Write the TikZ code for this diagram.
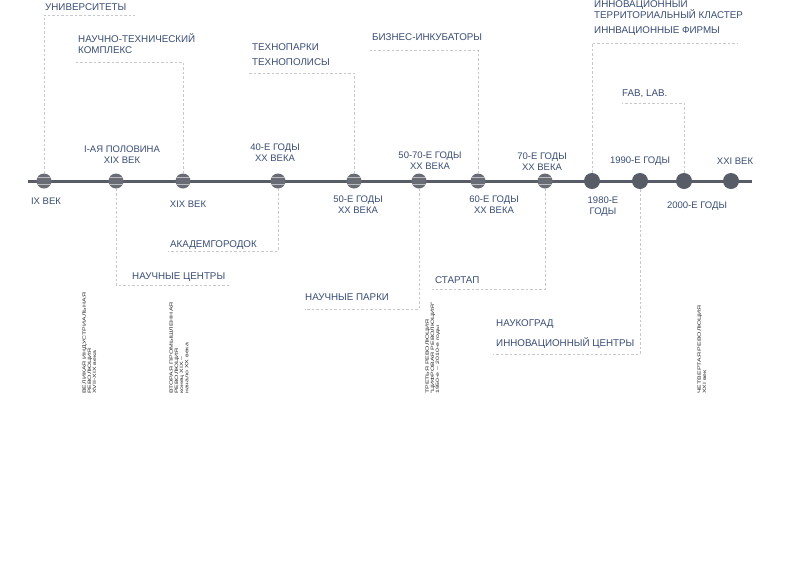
\documentclass[tikz,border=0pt]{standalone}
\usepackage{fontspec}
\setmainfont{Liberation Sans}
\usepackage{graphicx}

\definecolor{lineGray}{HTML}{585C66}
\definecolor{labelBlue}{HTML}{3A4D74}
\definecolor{dashGray}{HTML}{C6C8CC}
\definecolor{revText}{HTML}{2B2B2B}

\newcommand{\revlines}[1]{\scalebox{1.45}[1]{\begin{tabular}{@{}l@{}}#1\end{tabular}}}

\begin{document}
\begin{tikzpicture}[x=1pt, y=-1pt,
    dot/.style = {circle, fill=lineGray, minimum size=16pt, inner sep=0pt},
    olddot/.style = {circle, fill=lineGray!90, minimum size=15pt, inner sep=0pt,
        path picture = {
            \draw[white, opacity=0.55, line width=1.2pt]
                ([yshift=3.5pt]path picture bounding box.west) -- ([yshift=3.5pt]path picture bounding box.east);
            \draw[white, opacity=0.55, line width=1.2pt]
                ([yshift=-3.5pt]path picture bounding box.west) -- ([yshift=-3.5pt]path picture bounding box.east);
        }},
    tl/.style = {font=\fontsize{9.5}{10.8}\selectfont, text=labelBlue, align=center, inner sep=0pt},
    lbl/.style = {font=\fontsize{9.8}{11}\selectfont, text=labelBlue, anchor=west, align=left, inner sep=0pt},
    link/.style = {draw=dashGray, dash pattern=on 2.5pt off 2pt, line width=0.7pt},
    rev/.style = {rotate=90, anchor=north west, inner sep=0pt, text=revText,
        font=\fontsize{4.8}{5.2}\selectfont}
]

    \fill[white] (0,0) rectangle (795,563);
    \useasboundingbox (0,0) rectangle (795,563);

    % time axis
    \draw[lineGray, line width=3pt] (28,181) -- (752,181);

    \foreach \x [count=\i] in {44,116,183,278,354,419,478,545}
        \node[olddot] (d\i) at (\x,181) {};
    \foreach \x [count=\i from 9] in {592,640,684,731}
        \node[dot] (d\i) at (\x,181) {};

    % dates
    \node[tl] (t1) at (46,201) {IX ВЕК};
    \node[tl] (t2) at (122,155) {I-АЯ ПОЛОВИНА\\XIX ВЕК};
    \node[tl] (t3) at (188,204) {XIX ВЕК};
    \node[tl] (t4) at (275,153) {40-Е ГОДЫ\\XX ВЕКА};
    \node[tl] (t5) at (358,204.5) {50-Е ГОДЫ\\XX ВЕКА};
    \node[tl] (t6) at (430,160.5) {50-70-Е ГОДЫ\\XX ВЕКА};
    \node[tl] (t7) at (494,205) {60-Е ГОДЫ\\XX ВЕКА};
    \node[tl] (t8) at (542,161.5) {70-Е ГОДЫ\\XX ВЕКА};
    \node[tl] (t9) at (603,206.5) {1980-Е\\ГОДЫ};
    \node[tl] (t10) at (640,161) {1990-Е ГОДЫ};
    \node[tl] (t11) at (697,206) {2000-Е ГОДЫ};
    \node[tl] (t12) at (735,161) {XXI ВЕК};

    % forms above the axis
    \node[lbl] (univ) at (45,7) {УНИВЕРСИТЕТЫ};
    \node[lbl] (ntk) at (78,44) {НАУЧНО-ТЕХНИЧЕСКИЙ\\КОМПЛЕКС};
    \node[lbl] (tpark) at (252,47) {ТЕХНОПАРКИ};
    \node[lbl] (tpol) at (252,62) {ТЕХНОПОЛИСЫ};
    \node[lbl] (biz) at (372,37) {БИЗНЕС-ИНКУБАТОРЫ};
    \node[lbl] (klast) at (594,8.5) {ИННОВАЦИОННЫЙ\\ТЕРРИТОРИАЛЬНЫЙ КЛАСТЕР};
    \node[lbl] (firm) at (594,31) {ИННВАЦИОННЫЕ ФИРМЫ};
    \node[lbl] (fab) at (622,94) {FAB, LAB.};

    % forms below the axis
    \node[lbl] (akad) at (170,245) {АКАДЕМГОРОДОК};
    \node[lbl] (ncent) at (132,277) {НАУЧНЫЕ ЦЕНТРЫ};
    \node[lbl] (npark) at (305,297) {НАУЧНЫЕ ПАРКИ};
    \node[lbl] (start) at (435,280) {СТАРТАП};
    \node[lbl] (nauk) at (496,324) {НАУКОГРАД};
    \node[lbl] (icent) at (496,343) {ИННОВАЦИОННЫЙ ЦЕНТРЫ};

    \coordinate (univ-end) at (135,15);
    \coordinate (ntk-end) at (75,62);
    \coordinate (tpol-end) at (248,73);
    \coordinate (biz-end) at (370,50);
    \coordinate (firm-end) at (737,43);
    \coordinate (fab-end) at (622,103);
    \coordinate (akad-end) at (168,251);
    \coordinate (ncent-end) at (230,285);
    \coordinate (npark-end) at (305,309);
    \coordinate (start-end) at (432,289);
    \coordinate (icent-end) at (493,354);

    \draw[link] (d1) |- (univ-end);
    \draw[link] (d3) |- (ntk-end);
    \draw[link] (d5) |- (tpol-end);
    \draw[link] (d7) |- (biz-end);
    \draw[link] (d9) |- (firm-end);
    \draw[link] (d11) |- (fab-end);
    \draw[link] (d4) |- (akad-end);
    \draw[link] (d2) |- (ncent-end);
    \draw[link] (d6) |- (npark-end);
    \draw[link] (d8) |- (start-end);
    \draw[link] (d10) |- (icent-end);

    % revolutions
    \node[rev] (rev1) at (82,394) {\revlines{ВЕЛИКАЯ ИНДУСТРИАЛЬНАЯ\\РЕВОЛЮЦИЯ\\XVII-XIX века}};
    \node[rev] (rev2) at (169,394) {\revlines{ВТОРАЯ ПРОМЫШЛЕННАЯ\\РЕВОЛЮЦИЯ\\конец XIX –\\начало XX века}};
    \node[rev] (rev3) at (425,394) {\revlines{ТРЕТЬЯ РЕВОЛЮЦИЯ\\"ЦИФРОВАЯ РЕВОЛЮЦИЯ"\\1950-е – 2010-е годы}};
    \node[rev] (rev4) at (697,394) {\revlines{ЧЕТВЕРТАЯ РЕВОЛЮЦИЯ\\XXI век}};

\end{tikzpicture}
\end{document}
